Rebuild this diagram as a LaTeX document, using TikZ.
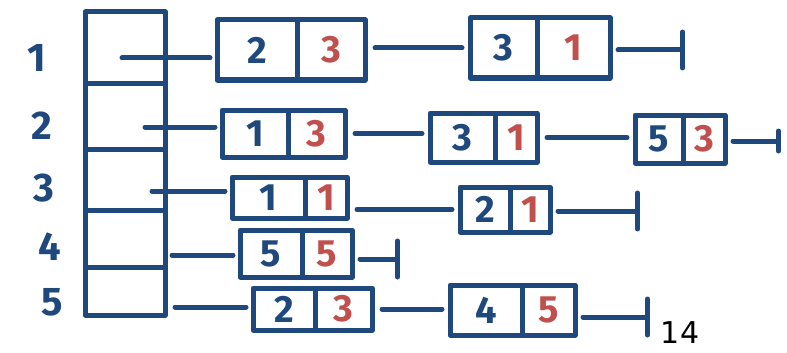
\documentclass[tikz,border=0pt]{standalone}
\usepackage{fontspec}
\setmainfont{Fira Sans}
\newfontfamily\pagefont{DejaVu Sans}
\usetikzlibrary{positioning,arrows.meta}

\definecolor{inkblue}{HTML}{1F497D}
\definecolor{inkred}{HTML}{C0504D}

\newcommand*{\ink}{5pt}

\begin{document}
\begin{tikzpicture}
[
	x=1pt, y=-1pt,
	line width=\ink, line cap=round, line join=round,
	cell/.style={draw=inkblue, minimum width=80pt, inner sep=0pt, outer sep=0pt},
	lbl/.style={text=inkblue, font=\bfseries\fontsize{40}{40}\selectfont},
	key/.style={draw=inkblue, text=inkblue, inner sep=0pt, outer sep=0pt, font=\bfseries\fontsize{38}{38}\selectfont},
	wgt/.style={key, text=inkred},
	ptr/.style={draw=inkblue, shorten >=7pt},
	link/.style={draw=inkblue, shorten <=10pt, shorten >=8pt},
	nil/.style={draw=inkblue, shorten <=8pt, -{Bar[width=36pt, round]}}
]

	\useasboundingbox (0,0) rectangle (787,353);

	% array of heads
	\node[cell, minimum height=71pt] at (125,47.5) (c1) {};
	\node[cell, minimum height=66pt, below=0pt of c1] (c2) {};
	\node[cell, minimum height=61pt, below=0pt of c2] (c3) {};
	\node[cell, minimum height=57pt, below=0pt of c3] (c4) {};
	\node[cell, minimum height=48pt, below=0pt of c4] (c5) {};

	\node[lbl] at (37,58) (n1) {1};
	\node[lbl] at (42,126) (n2) {2};
	\node[lbl] at (44,188) (n3) {3};
	\node[lbl] at (50,247) (n4) {4};
	\node[lbl] at (52,302) (n5) {5};

	\coordinate (p1) at (122,58);
	\coordinate (p2) at (145,127);
	\coordinate (p3) at (152,191);
	\coordinate (p4) at (172,255);
	\coordinate (p5) at (175,307);

	% list 1
	\node[key, minimum width=80pt, minimum height=60pt] at (257,50) (b1a) {2};
	\node[wgt, minimum width=68pt, minimum height=60pt, right=0pt of b1a] (b1aw) {3};
	\node[key, minimum width=67pt, minimum height=60pt] at (503.5,48) (b1b) {3};
	\node[wgt, minimum width=73pt, minimum height=60pt, right=0pt of b1b] (b1bw) {1};
	\coordinate (t1) at (685,50);

	% list 2
	\node[key, minimum width=66pt, minimum height=47pt] at (255,133.5) (b2a) {1};
	\node[wgt, minimum width=57pt, minimum height=47pt, right=0pt of b2a] (b2aw) {3};
	\node[key, minimum width=65pt, minimum height=49pt] at (462.5,137.5) (b2b) {3};
	\node[wgt, minimum width=42pt, minimum height=49pt, right=0pt of b2b] (b2bw) {1};
	\node[key, minimum width=48pt, minimum height=48pt] at (659,139) (b2c) {5};
	\node[wgt, minimum width=42pt, minimum height=48pt, right=0pt of b2c] (b2cw) {3};
	\coordinate (t2) at (781,141);

	% list 3
	\node[key, minimum width=73pt, minimum height=41pt] at (268.5,197.5) (b3a) {1};
	\node[wgt, minimum width=42pt, minimum height=41pt, right=0pt of b3a] (b3aw) {1};
	\node[key, minimum width=50pt, minimum height=45pt] at (485,209.5) (b3b) {2};
	\node[wgt, minimum width=40pt, minimum height=45pt, right=0pt of b3b] (b3bw) {1};
	\coordinate (t3) at (640,211);

	% list 4
	\node[key, minimum width=62pt, minimum height=47pt] at (271,253.5) (b4a) {5};
	\node[wgt, minimum width=50pt, minimum height=47pt, right=0pt of b4a] (b4aw) {5};
	\coordinate (t4) at (400,259);

	% list 5
	\node[key, minimum width=62pt, minimum height=42pt] at (284,309) (b5a) {2};
	\node[wgt, minimum width=57pt, minimum height=42pt, right=0pt of b5a] (b5aw) {3};
	\node[key, minimum width=72pt, minimum height=50pt] at (486,310) (b5b) {4};
	\node[wgt, minimum width=53pt, minimum height=50pt, right=0pt of b5b] (b5bw) {5};
	\coordinate (t5) at (650,317);

	% pointers
	\draw[ptr] (p1) -- (p1 -| b1a.west);
	\draw[ptr] (p2) -- (p2 -| b2a.west);
	\draw[ptr] (p3) -- (p3 -| b3a.west);
	\draw[ptr] (p4) -- (p4 -| b4a.west);
	\draw[ptr] (p5) -- (p5 -| b5a.west);

	% next links
	\draw[link] (b1aw.east |- b1b.west) -- (b1b.west);
	\draw[nil] (b1bw.east |- t1) -- (t1);
	\draw[link] (b2aw.east) -- (b2aw.east -| b2b.west);
	\draw[link] (b2bw.east) -- (b2bw.east -| b2c.west);
	\draw[nil, -{Bar[width=20pt, round]}] (b2cw.east |- t2) -- (t2);
	\draw[link] (b3aw.east |- b3b.west) -- (b3b.west);
	\draw[nil] (b3bw.east |- t3) -- (t3);
	\draw[nil] (b4aw.east |- t4) -- (t4);
	\draw[link] (b5aw.east) -- (b5aw.east -| b5b.west);
	\draw[nil] (b5bw.east |- t5) -- (t5);

	\node[font=\pagefont\fontsize{30}{30}\selectfont] at (680,333) (pg) {14};

\end{tikzpicture}
\end{document}
